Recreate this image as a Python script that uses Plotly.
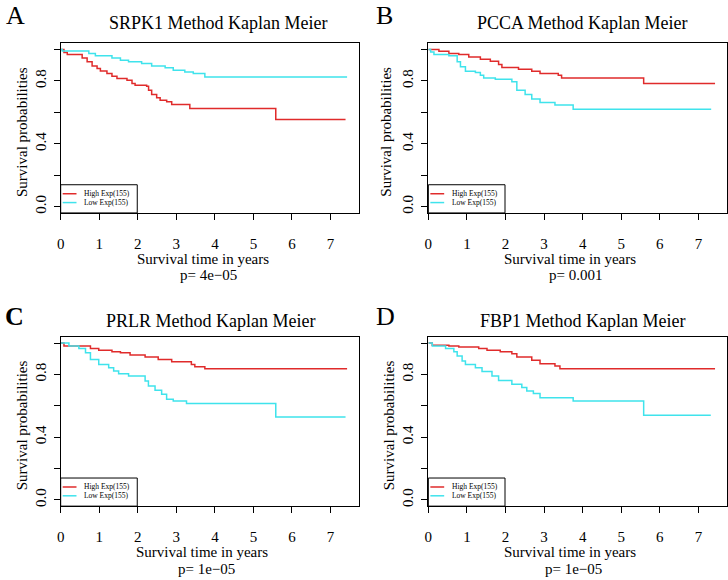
import plotly.graph_objects as go

FONT = "Liberation Serif"
RED = "#E02B2B"
CYAN = "#3FE3EC"

genes = ["SRPK1", "PCCA", "PRLR", "FBP1"]
p_values = ["p= 4e\u221205", "p= 0.001", "p= 1e\u221205", "p= 1e\u221205"]
panel_letters = ["A", "B", "C", "D"]
legend_labels = ["High Exp(155)", "Low Exp(155)"]
x_tick_vals = [0, 1, 2, 3, 4, 5, 6, 7]
y_tick_vals = [0.0, 0.2, 0.4, 0.6, 0.8, 1.0]
y_tick_text = ["0.0", "", "0.4", "", "0.8", ""]

# Panel A (SRPK1)
A_high_t = [0, 0.085, 0.171, 0.557, 0.686, 0.815, 0.944, 1.03, 1.20, 1.33, 1.46, 1.72, 1.85, 1.93, 2.23, 2.28, 2.36, 2.49, 2.58, 2.75, 2.88, 3.35, 5.58, 7.39]
A_high_s = [1.0, 0.980, 0.967, 0.946, 0.921, 0.895, 0.878, 0.863, 0.847, 0.830, 0.815, 0.804, 0.783, 0.772, 0.766, 0.741, 0.713, 0.692, 0.677, 0.667, 0.650, 0.624, 0.554, 0.554]
A_low_t = [0, 0.042, 0.73, 0.90, 1.33, 1.55, 1.76, 2.10, 2.36, 2.71, 2.92, 3.22, 3.44, 3.74, 7.43]
A_low_s = [1.0, 0.990, 0.974, 0.959, 0.946, 0.931, 0.921, 0.910, 0.895, 0.883, 0.868, 0.857, 0.847, 0.825, 0.825]

# Panel B (PCCA)
B_high_t = [0, 0.274, 0.532, 0.789, 1.047, 1.348, 1.606, 1.82, 1.906, 2.336, 2.68, 2.894, 3.367, 3.453, 5.58, 7.43]
B_high_s = [1.0, 0.988, 0.974, 0.967, 0.952, 0.938, 0.925, 0.904, 0.885, 0.874, 0.861, 0.847, 0.836, 0.819, 0.783, 0.783]
B_low_t = [0, 0.059, 0.145, 0.532, 0.747, 0.832, 0.961, 1.219, 1.348, 1.434, 1.735, 2.164, 2.293, 2.508, 2.68, 2.894, 3.281, 3.753, 7.33]
B_low_s = [1.0, 0.984, 0.967, 0.959, 0.921, 0.889, 0.861, 0.853, 0.836, 0.819, 0.811, 0.794, 0.741, 0.713, 0.684, 0.662, 0.646, 0.620, 0.620]

# Panel C (PRLR)
C_high_t = [0, 0.085, 0.772, 0.987, 1.33, 1.55, 1.80, 2.19, 2.53, 2.88, 3.39, 3.48, 3.74, 7.43]
C_high_s = [1.0, 0.981, 0.966, 0.954, 0.945, 0.939, 0.924, 0.911, 0.896, 0.881, 0.864, 0.849, 0.837, 0.837]
C_low_t = [0, 0.214, 0.472, 0.644, 0.772, 0.987, 1.245, 1.374, 1.503, 1.761, 2.19, 2.276, 2.448, 2.619, 2.748, 2.92, 3.264, 5.58, 7.39]
C_low_s = [1.0, 0.981, 0.966, 0.939, 0.896, 0.864, 0.843, 0.822, 0.805, 0.790, 0.758, 0.726, 0.699, 0.673, 0.641, 0.631, 0.614, 0.529, 0.529]

# Panel D (FBP1)
D_high_t = [0, 0.102, 0.532, 0.789, 1.305, 1.52, 1.863, 2.164, 2.293, 2.68, 2.894, 3.281, 3.41, 7.43]
D_high_s = [1.0, 0.987, 0.981, 0.975, 0.966, 0.954, 0.945, 0.932, 0.911, 0.890, 0.868, 0.854, 0.837, 0.837]
D_low_t = [0, 0.102, 0.446, 0.661, 0.747, 0.875, 0.961, 1.219, 1.391, 1.649, 1.82, 2.164, 2.422, 2.551, 2.722, 2.894, 3.753, 5.58, 7.32]
D_low_s = [1.0, 0.981, 0.966, 0.945, 0.917, 0.885, 0.864, 0.843, 0.818, 0.790, 0.762, 0.737, 0.716, 0.694, 0.678, 0.652, 0.631, 0.539, 0.539]

series = [
    (A_high_t, A_high_s, A_low_t, A_low_s),
    (B_high_t, B_high_s, B_low_t, B_low_s),
    (C_high_t, C_high_s, C_low_t, C_low_s),
    (D_high_t, D_high_s, D_low_t, D_low_s),
]

W, H = 728, 580
# plot boxes in pixels: (left, right, top, bottom)
boxes = [(57, 357, 43.2, 213.3), (426.7, 727, 43.2, 213.3),
         (57, 357, 337.4, 507), (426.7, 727, 337.4, 507)]
# text positions in pixels
title_pos = [(214.7, 23.3), (581.2, 23.3), (207.5, 321.7), (581.5, 321.7)]
xlab_pos = [(199.7, 259.3), (569, 259.3), (199.3, 553.3), (569, 553.3)]
p_pos = [(205.5, 275.7), (574.3, 275.7), (203.3, 569.5), (572.7, 569.5)]
ylab_pos = [(18.3, 132), (384, 132), (18.3, 425.8), (387.3, 425.8)]
letter_pos = [(12, 12), (383, 12), (11, 317), (384, 317)]


def px(x):
    return x / W


def py(y):
    return 1 - y / H


fig = go.Figure()
layout = dict(
    width=W, height=H, margin=dict(l=0, r=0, t=0, b=0),
    paper_bgcolor="white", plot_bgcolor="white", showlegend=False,
    font=dict(family=FONT, color="black"),
)
annotations = []
shapes = []

for i in range(4):
    n = "" if i == 0 else str(i + 1)
    xa, ya = "x" + n, "y" + n
    ht, hs, lt, ls = series[i]
    fig.add_trace(go.Scatter(x=ht, y=hs, mode="lines", line=dict(color=RED, width=1.5, shape="hv"),
                             xaxis=xa, yaxis=ya, name=legend_labels[0]))
    fig.add_trace(go.Scatter(x=lt, y=ls, mode="lines", line=dict(color=CYAN, width=1.5, shape="hv"),
                             xaxis=xa, yaxis=ya, name=legend_labels[1]))
    l, r, t, b = boxes[i]
    axcommon = dict(showline=True, mirror=True, linecolor="black", linewidth=1,
                    ticks="outside", ticklen=6, tickwidth=1, tickcolor="black",
                    showgrid=False, zeroline=False,
                    tickfont=dict(family=FONT, size=15, color="black"))
    layout["xaxis" + n] = dict(axcommon, domain=[px(l), px(r)], range=[0, 7.74],
                               tickvals=x_tick_vals, anchor=ya, ticklabelstandoff=11)
    layout["yaxis" + n] = dict(axcommon, domain=[py(b), py(t)], range=[-0.04, 1.04],
                               tickvals=y_tick_vals, ticktext=y_tick_text, tickangle=-90,
                               anchor=xa, ticklabelstandoff=2)
    xd, yd = xa + " domain", ya + " domain"
    # legend box
    shapes.append(dict(type="rect", xref=xd, yref=yd, x0=0, x1=77 / 300, y0=0, y1=0.166,
                       line=dict(color="black", width=1), fillcolor="rgba(0,0,0,0)"))
    for k, (col, yy) in enumerate([(RED, 0.113), (CYAN, 0.061)]):
        shapes.append(dict(type="line", xref=xd, yref=yd, x0=0.0067, x1=0.053, y0=yy, y1=yy,
                           line=dict(color=col, width=1.5)))
        annotations.append(dict(xref=xd, yref=yd, x=0.073, y=yy, text=legend_labels[k],
                                showarrow=False, xanchor="left", yanchor="middle",
                                font=dict(family=FONT, size=7.5, color="black")))
    # titles
    annotations.append(dict(xref="paper", yref="paper", x=px(title_pos[i][0]), y=py(title_pos[i][1]),
                            text=genes[i] + " Method Kaplan Meier", showarrow=False,
                            xanchor="center", yanchor="middle", font=dict(size=18)))
    annotations.append(dict(xref="paper", yref="paper", x=px(xlab_pos[i][0]), y=py(xlab_pos[i][1]),
                            text="Survival time in years", showarrow=False,
                            xanchor="center", yanchor="middle", font=dict(size=15)))
    annotations.append(dict(xref="paper", yref="paper", x=px(p_pos[i][0]), y=py(p_pos[i][1]),
                            text=p_values[i], showarrow=False,
                            xanchor="center", yanchor="middle", font=dict(size=15)))
    annotations.append(dict(xref="paper", yref="paper", x=px(ylab_pos[i][0]), y=py(ylab_pos[i][1]),
                            text="Survival probabilities", showarrow=False, textangle=-90,
                            xanchor="center", yanchor="middle", font=dict(size=15)))
    letter = "<b>C</b>" if panel_letters[i] == "C" else panel_letters[i]
    if i < 2:
        annotations.append(dict(xref="paper", yref="paper", x=px(letter_pos[i][0]), y=1.0,
                                text=letter, showarrow=False, borderpad=0,
                                xanchor="center", yanchor="top", font=dict(size=26)))
    else:
        annotations.append(dict(xref="paper", yref="paper", x=px(letter_pos[i][0]), y=py(letter_pos[i][1]),
                                text=letter, showarrow=False,
                                xanchor="center", yanchor="middle", font=dict(size=26)))

layout["annotations"] = annotations
layout["shapes"] = shapes
fig.update_layout(**layout)
fig.write_html("out.html", config={"displayModeBar": False},
               post_script="document.body.style.margin='0';document.body.style.overflow='hidden';")
